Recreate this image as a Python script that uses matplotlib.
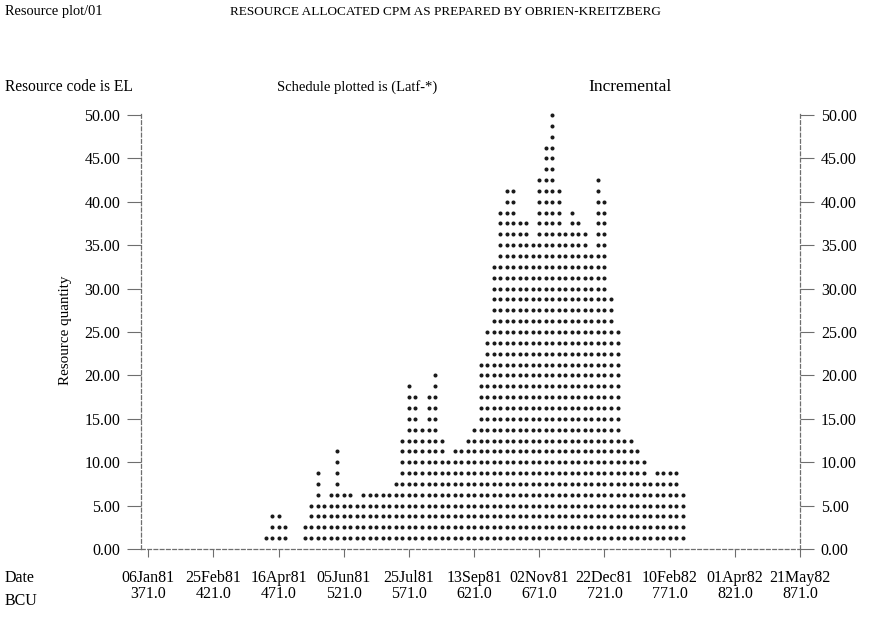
import matplotlib
matplotlib.use("Agg")
import matplotlib.pyplot as plt
import numpy as np

# ---- data -------------------------------------------------------------
# BCU (day number) of each plotted column, every 5 days
bcu = list(range(461, 786, 5))
# resource quantity per column (incremental)
quantity = [
    1.25, 3.75, 3.75, 2.50, 0.00, 0.00, 2.50, 5.00, 8.75, 5.00,   # 461-506
    6.25, 11.25, 6.25, 6.25, 5.00, 6.25, 6.25, 6.25, 6.25, 6.25,  # 511-556
    7.50, 12.50, 18.75, 17.50, 13.75, 17.50, 20.00, 12.50, 10.00, 11.25,  # 561-606
    11.25, 12.50, 13.75, 21.25, 25.00, 32.50, 38.75, 41.25, 41.25, 37.50,  # 611-656
    37.50, 35.00, 42.50, 46.25, 50.00, 41.25, 36.25, 38.75, 37.50, 36.25,  # 661-706
    33.75, 42.50, 40.00, 28.75, 25.00, 12.50, 12.50, 11.25, 10.00, 7.50,   # 711-756
    8.75, 8.75, 8.75, 8.75, 6.25,                                          # 761-781
]
row_step = 1.25  # resource units represented by one printed dot

y_ticks = [0, 5, 10, 15, 20, 25, 30, 35, 40, 45, 50]
x_ticks = [371, 421, 471, 521, 571, 621, 671, 721, 771, 821, 871]
date_labels = ["06Jan81", "25Feb81", "16Apr81", "05Jun81", "25Jul81", "13Sep81",
               "02Nov81", "22Dec81", "10Feb82", "01Apr82", "21May82"]

# ---- figure -----------------------------------------------------------
W, H = 869, 619
plt.rcParams['font.family'] = ['Liberation Serif', 'DejaVu Serif']
FS = 11.5
fig = plt.figure(figsize=(W / 100, H / 100), dpi=100)
fig.patch.set_facecolor('white')

ax_left, ax_right_px, ax_bottom_px = 141, 800, 549
y_top = 50.3
px_per_unit = (549 - 115) / 50.0
ax = fig.add_axes([ax_left / W, (H - ax_bottom_px) / H,
                   (ax_right_px - ax_left) / W, px_per_unit * y_top / H])
ax.set_xlim(365.4, 871)
ax.set_ylim(0, y_top)

# dots
xs, ys = [], []
for b, q in zip(bcu, quantity):
    n = int(round(q / row_step))
    for k in range(1, n + 1):
        xs.append(b)
        ys.append(k * row_step)
ax.scatter(xs, ys, s=8.5, marker='o', color='#1a1a1a', linewidths=0, zorder=3)

# axes styling
axis_col = '#6e6e6e'
for side in ['left', 'right', 'bottom']:
    ax.spines[side].set_color(axis_col)
    ax.spines[side].set_linewidth(0.9)
    ax.spines[side].set_linestyle((0, (3, 2)))
ax.spines['top'].set_visible(False)

ax.set_yticks(y_ticks)
ax.set_yticklabels([f"{v:.2f}" for v in y_ticks])
ax.tick_params(axis='y', which='both', left=True, right=True,
               labelleft=True, labelright=True, length=10, width=0.8,
               color=axis_col, pad=5, labelsize=FS)
ax.set_xticks(x_ticks)
ax.set_xticklabels([f"{d}\n{b:.1f}" for d, b in zip(date_labels, x_ticks)],
                   linespacing=1.0)
ax.tick_params(axis='x', length=6, width=0.8, color=axis_col, pad=9,
               labelsize=FS)

ax.set_ylabel("Resource quantity", fontsize=10.8, labelpad=9)

# header texts
def ftext(x, y, s, fs=FS, **kw):
    fig.text(x / W, 1 - y / H, s, fontsize=fs, va='center', **kw)

ftext(5, 12, "Resource plot/01", fs=10.4)
ftext(445, 12, "RESOURCE ALLOCATED CPM AS PREPARED BY OBRIEN-KREITZBERG", fs=9.5, ha='center')
ftext(5, 87, "Resource code is EL", fs=11.2)
ftext(357, 87, "Schedule plotted is (Latf-*)", fs=10.5, ha='center')
ftext(630, 87, "Incremental", fs=12.5, ha='center')
ftext(5, 578, "Date")
ftext(5, 601, "BCU")

fig.savefig("out.png", dpi=100, facecolor='white')
